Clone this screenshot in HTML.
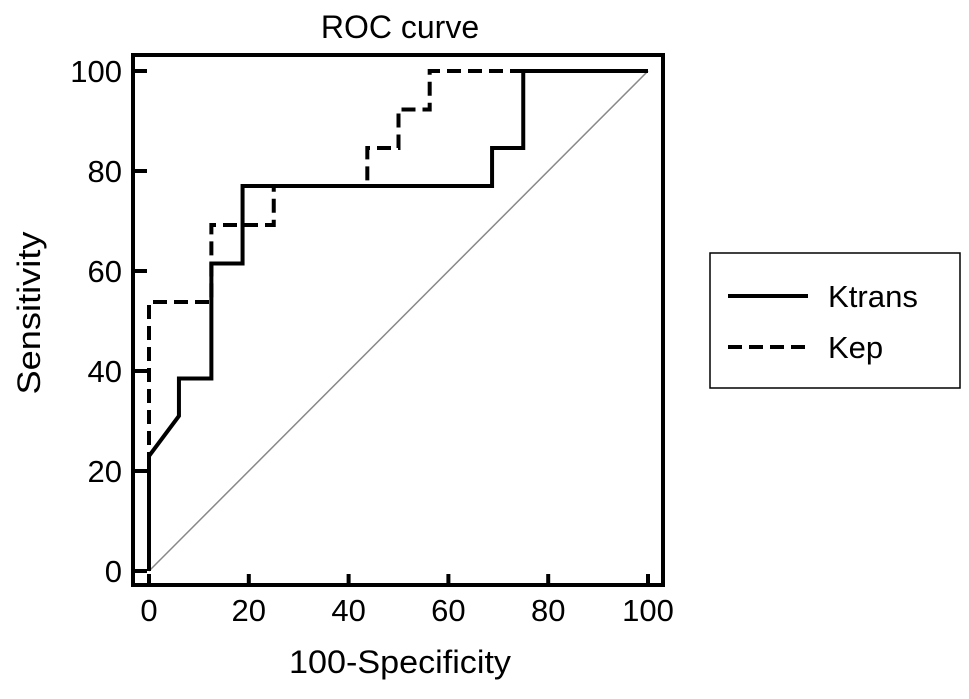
<!DOCTYPE html>
<html><head><meta charset="utf-8"><style>
body{margin:0;background:#fff;}
svg text{font-family:"Liberation Sans",Arial,sans-serif;fill:#000;}
</style></head><body>
<svg width="969" height="694" viewBox="0 0 969 694">
<text x="400" y="38" font-size="32" text-anchor="middle">ROC curve</text>
<rect x="133" y="55" width="530" height="530" fill="none" stroke="#000" stroke-width="4"/>
<g id="xt"></g>
<g id="yt"></g>
<line id="diag" stroke="#888" stroke-width="1.5"/>
<path id="ktrans" fill="none" stroke="#000" stroke-width="4"/>
<path id="kep" fill="none" stroke="#000" stroke-width="4" stroke-dasharray="14,7"/>
<text x="400" y="673" font-size="32" text-anchor="middle" textLength="222" lengthAdjust="spacingAndGlyphs">100-Specificity</text>
<text transform="translate(40,313) rotate(-90)" font-size="32" text-anchor="middle" textLength="163" lengthAdjust="spacingAndGlyphs">Sensitivity</text>
<g>
<rect x="710" y="253" width="250" height="135" fill="#fff" stroke="#000" stroke-width="1.5"/>
<line x1="728" y1="296" x2="808" y2="296" stroke="#000" stroke-width="4"/>
<text x="828" y="307" font-size="31" textLength="90" lengthAdjust="spacingAndGlyphs">Ktrans</text>
<line x1="728" y1="347" x2="808" y2="347" stroke="#000" stroke-width="4" stroke-dasharray="14,7"/>
<text x="828" y="358" font-size="31">Kep</text>
</g>
</svg>
<script>
const xTicks=[0,20,40,60,80,100];
const yTicks=[0,20,40,60,80,100];
const ktransFpr=[0,0,6,6,12.5,12.5,18.75,18.75,68.75,68.75,75,75,100];
const ktransTpr=[0,23,31,38.5,38.5,61.5,61.5,77,77,84.6,84.6,100,100];
const kepFpr=[0,0,12.5,12.5,25,25,43.75,43.75,50,50,56.25,56.25,100];
const kepTpr=[0,53.8,53.8,69.2,69.2,77,77,84.6,84.6,92.3,92.3,100,100];
const X=v=>149+v*4.99, Y=v=>571-v*5;
const NS='http://www.w3.org/2000/svg';
const xt=document.getElementById('xt'), yt=document.getElementById('yt');
xTicks.forEach(t=>{
 const l=document.createElementNS(NS,'line');
 
 
 l.setAttribute('x1',X(t));l.setAttribute('x2',X(t));l.setAttribute('y1',585);l.setAttribute('y2',574);
 l.setAttribute('stroke','#000');l.setAttribute('stroke-width',4);xt.appendChild(l);
 const s=document.createElementNS(NS,'text');
 
 
 s.setAttribute('x',X(t));s.setAttribute('y',621);s.setAttribute('font-size',31);s.setAttribute('text-anchor','middle');
 s.textContent=t;xt.appendChild(s);
});
yTicks.forEach(t=>{
 const l=document.createElementNS(NS,'line');
 
 
 l.setAttribute('x1',133);l.setAttribute('x2',147);l.setAttribute('y1',Y(t));l.setAttribute('y2',Y(t));
 l.setAttribute('stroke','#000');l.setAttribute('stroke-width',4);yt.appendChild(l);
 const s=document.createElementNS(NS,'text');
 
 
 s.setAttribute('x',122);s.setAttribute('y',Y(t)+11);s.setAttribute('font-size',31);s.setAttribute('text-anchor','end');
 s.textContent=t;yt.appendChild(s);
});
const d=document.getElementById('diag');
d.setAttribute('x1',X(0));d.setAttribute('y1',Y(0));d.setAttribute('x2',X(100));d.setAttribute('y2',Y(100));
const path=(xs,ys)=>xs.map((x,i)=>(i?'L':'M')+X(x)+' '+Y(ys[i])).join(' ');
document.getElementById('ktrans').setAttribute('d',path(ktransFpr,ktransTpr));
document.getElementById('kep').setAttribute('d',path(kepFpr,kepTpr));
</script>
</body></html>
